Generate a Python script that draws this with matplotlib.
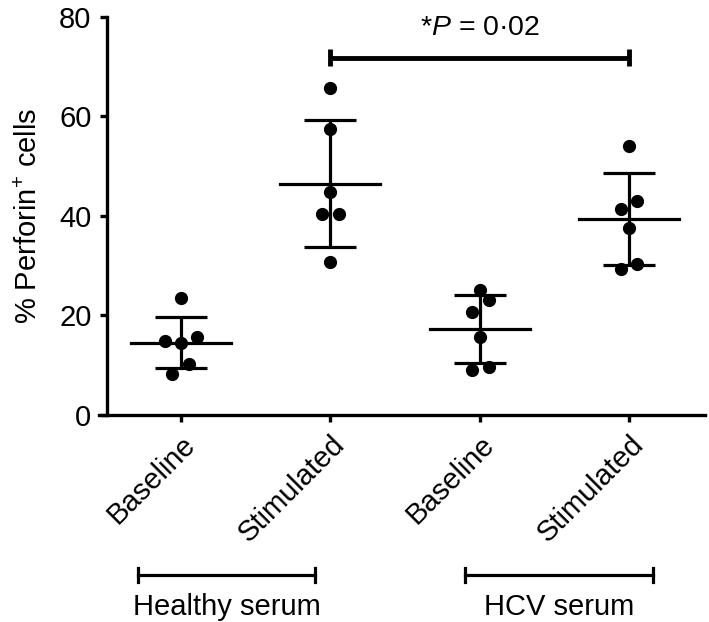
import numpy as np
import matplotlib
matplotlib.use('Agg')
import matplotlib.pyplot as plt
import matplotlib.transforms as mtransforms

plt.rcParams['font.family'] = ['Liberation Sans', 'DejaVu Sans']
plt.rcParams['mathtext.fontset'] = 'custom'
plt.rcParams['mathtext.rm'] = 'Liberation Sans'
plt.rcParams['mathtext.it'] = 'Liberation Sans:italic'
plt.rcParams['mathtext.default'] = 'regular'

# categories (x tick labels)
labels = ['Baseline', 'Stimulated', 'Baseline', 'Stimulated']

# individual values per group
hs_base = [23.6, 14.9, 14.4, 15.6, 10.3, 8.2]
hs_stim = [65.7, 57.5, 44.8, 40.3, 40.3, 30.7]
hcv_base = [25.1, 23.1, 20.8, 15.7, 9.0, 9.7]
hcv_stim = [54.1, 43.1, 41.5, 37.5, 29.3, 30.4]
groups = [hs_base, hs_stim, hcv_base, hcv_stim]

# horizontal scatter of the dots (category units)
jitter = [[0, -0.11, 0, 0.11, 0.055, -0.06],
          [0, 0, 0, -0.058, 0.055, 0],
          [0, 0.06, -0.055, 0, -0.055, 0.06],
          [0, 0.055, -0.055, 0, -0.055, 0.055]]

# mean +/- SD
means = [14.5, 46.5, 17.25, 39.4]
sds = [5.15, 12.8, 6.85, 9.2]

# significance
p_text = r'*$\mathit{P}$ = 0·02'
p_pair = (1, 3)
p_y = 71.8

# group brackets under the axis
serum_names = ['Healthy serum', 'HCV serum']
serum_spans = [(-0.29, 0.9), (1.9, 3.16)]

fig = plt.figure(figsize=(7.09, 6.22), dpi=100)
ax = fig.add_axes([0.1396, 0.3328, 0.8548, 0.6399])

lw = 2.3
fs = 21
x = np.arange(len(groups))
for i, vals in enumerate(groups):
    xs = x[i] + np.array(jitter[i])
    ax.plot(xs, vals, 'o', color='black', markersize=8.5, zorder=3, clip_on=False)
    ax.plot([x[i] - 0.335, x[i] + 0.335], [means[i], means[i]], color='black', lw=lw)
    ax.errorbar(x[i], means[i], yerr=sds[i], fmt='none', ecolor='black',
                elinewidth=lw, capsize=25.7 / 1.389, capthick=lw)

# significance bar
ax.plot([p_pair[0], p_pair[1]], [p_y, p_y], color='black', lw=3.5, solid_capstyle='butt')
for px in p_pair:
    ax.plot([px, px], [p_y - 1.7, p_y + 1.7], color='black', lw=3.5, solid_capstyle='butt')
ax.text((p_pair[0] + p_pair[1]) / 2, 76.4, p_text, ha='center', va='baseline', fontsize=20.5)

ax.set_xlim(-0.549, 3.507)
ax.set_ylim(0, 80)
ax.set_yticks([0, 20, 40, 60, 80])
ax.set_xticks(x)
ax.set_xticklabels(labels, rotation=45, ha='right', va='top', rotation_mode='anchor')
ax.spines['top'].set_visible(False)
ax.spines['right'].set_visible(False)
ax.spines['left'].set_position(('data', -0.497))
for s in ['left', 'bottom']:
    ax.spines[s].set_linewidth(2.4)
ax.tick_params(axis='both', width=2.4, length=5, labelsize=fs, pad=6, color='black')
ax.set_ylabel('% Perforin$^{+}$ cells', fontsize=fs)
ax.yaxis.set_label_coords(-0.093, 0.5)

# serum brackets below the tick labels
trans = mtransforms.blended_transform_factory(ax.transData, fig.transFigure)
for name, (a, b) in zip(serum_names, serum_spans):
    yb = 1 - 575 / 622
    ax.plot([a, b], [yb, yb], color='black', lw=2.3, transform=trans, clip_on=False)
    for e in (a, b):
        ax.plot([e, e], [yb - 0.012, yb + 0.012], color='black', lw=2.3,
                transform=trans, clip_on=False)
    ax.text((a + b) / 2, 1 - 615 / 622, name, ha='center', va='baseline',
            fontsize=fs, transform=trans)

fig.savefig('out.png', dpi=100)
